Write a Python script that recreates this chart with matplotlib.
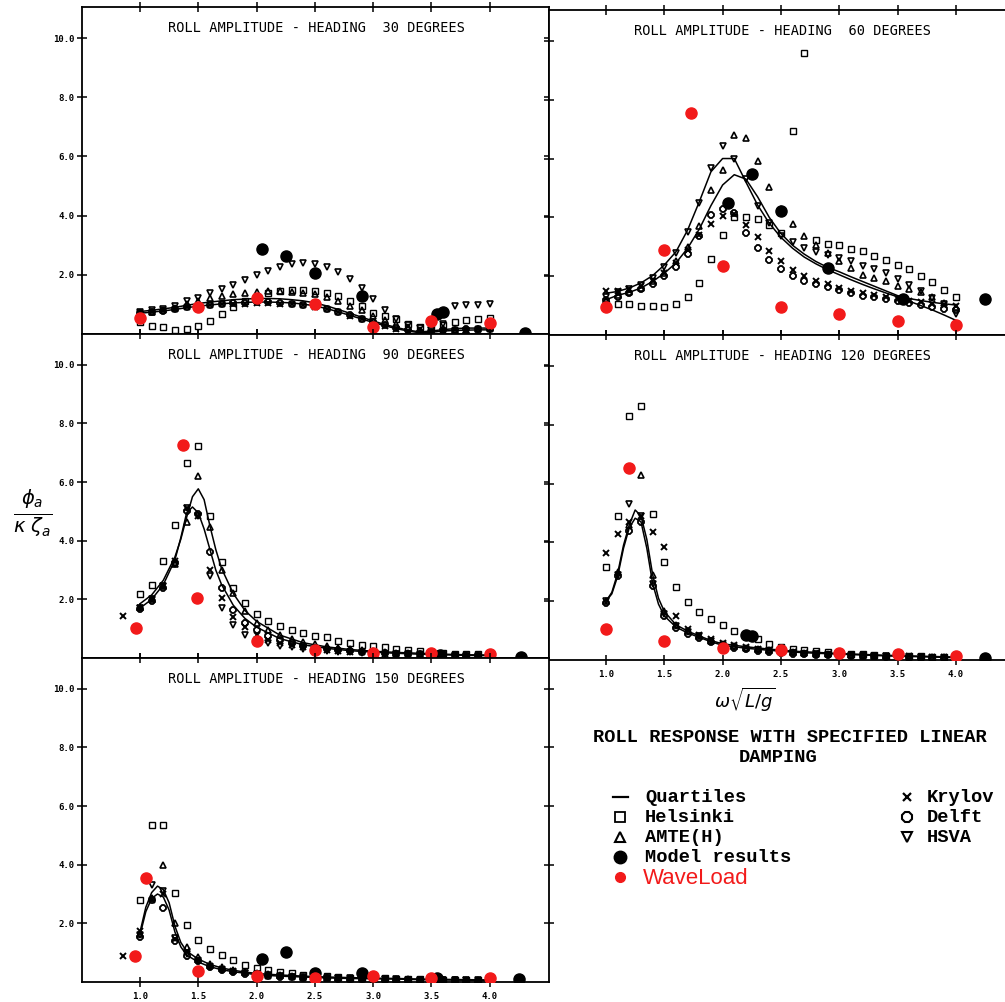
import matplotlib
matplotlib.use("Agg")
import matplotlib.pyplot as plt

# reduced frequency grid used by the computed results
GRID = [1.0, 1.1, 1.2, 1.3, 1.4, 1.5, 1.6, 1.7, 1.8, 1.9, 2.0,
        2.1, 2.2, 2.3, 2.4, 2.5, 2.6, 2.7, 2.8, 2.9, 3.0,
        3.1, 3.2, 3.3, 3.4, 3.5, 3.6, 3.7, 3.8, 3.9, 4.0]

# ---- heading 30 ----
Q30_HI = [0.76, 0.80, 0.85, 0.90, 0.97, 1.03, 1.08, 1.12, 1.16, 1.18, 1.20,
          1.20, 1.19, 1.16, 1.12, 1.05, 0.95, 0.83, 0.70, 0.57, 0.44,
          0.32, 0.22, 0.13, 0.07, 0.10, 0.15, 0.18, 0.20, 0.20, 0.20]
Q30_LO = [0.70, 0.74, 0.78, 0.83, 0.89, 0.94, 0.98, 1.02, 1.05, 1.07, 1.08,
          1.08, 1.07, 1.05, 1.01, 0.95, 0.86, 0.75, 0.63, 0.51, 0.39,
          0.28, 0.18, 0.10, 0.04, 0.06, 0.10, 0.12, 0.13, 0.14, 0.14]
HEL30 = [0.42, 0.28, 0.22, 0.15, 0.16, 0.28, 0.45, 0.68, 0.90, 1.10, 1.25,
         1.38, 1.45, 1.50, 1.50, 1.45, 1.38, 1.27, 1.13, 0.93, 0.72,
         0.60, 0.50, 0.35, 0.25, 0.25, 0.32, 0.42, 0.47, 0.50, 0.53]
AMTE30 = [0.72, 0.76, 0.80, 0.88, 1.00, 1.10, 1.20, 1.30, 1.35, 1.40, 1.42,
          1.44, 1.44, 1.43, 1.40, 1.35, 1.25, 1.10, 0.95, 0.80, 0.62,
          0.48, 0.35, 0.22, 0.12, 0.08, 0.10, 0.12, 0.15, 0.18, 0.20]
HSVA30 = [0.75, 0.80, 0.85, 0.95, 1.10, 1.21, 1.38, 1.51, 1.66, 1.82, 2.00,
          2.13, 2.25, 2.36, 2.40, 2.37, 2.28, 2.10, 1.85, 1.55, 1.18,
          0.80, 0.50, 0.30, 0.20, 0.15, 0.35, 0.95, 0.97, 0.98, 1.00]
KRY30 = [0.72, 0.76, 0.80, 0.85, 0.90, 0.94, 0.98, 1.00, 1.02, 1.03, 1.04,
         1.04, 1.03, 1.00, 0.97, 0.92, 0.84, 0.74, 0.62, 0.50, 0.38,
         0.27, 0.18, 0.10, 0.05, 0.06, 0.10, 0.13, 0.15, 0.16, 0.16]
DELFT30 = [0.70, 0.75, 0.79, 0.84, 0.90, 0.95, 0.99, 1.02, 1.04, 1.06, 1.07,
           1.07, 1.06, 1.03, 0.99, 0.93, 0.85, 0.75, 0.64, 0.52, 0.40,
           0.29, 0.20, 0.12, 0.06, 0.08, 0.12, 0.14, 0.16, 0.17, 0.17]
MOD30_X = [2.05, 2.25, 2.5, 2.9, 3.55, 3.6, 4.3]
MOD30_Y = [2.88, 2.62, 2.07, 1.30, 0.68, 0.75, 0.05]
WL30_X = [1.0, 1.5, 2.0, 2.5, 3.0, 3.5, 4.0]
WL30_Y = [0.55, 0.90, 1.20, 1.00, 0.25, 0.45, 0.38]

# ---- heading 60 ----
Q60_HI = [1.42, 1.48, 1.60, 1.77, 2.02, 2.38, 2.83, 3.57, 4.53, 5.55, 6.00,
          6.00, 5.20, 4.42, 3.80, 3.32, 2.95, 2.65, 2.42, 2.22, 2.05,
          1.88, 1.72, 1.57, 1.43, 1.30, 1.15, 1.00, 0.85, 0.68, 0.50]
Q60_LO = [1.20, 1.35, 1.45, 1.60, 1.82, 2.10, 2.45, 2.95, 3.60, 4.40, 5.10,
          5.45, 5.30, 4.70, 4.00, 3.45, 3.05, 2.75, 2.50, 2.30, 2.15,
          1.98, 1.82, 1.66, 1.50, 1.34, 1.24, 1.17, 1.11, 1.06, 1.02]
HEL60 = [1.05, 1.04, 1.04, 1.00, 1.00, 0.95, 1.04, 1.30, 1.76, 2.57, 3.39,
         4.00, 4.00, 3.93, 3.75, 3.46, 6.94, 9.58, 3.23, 3.10, 3.05,
         2.93, 2.84, 2.68, 2.56, 2.37, 2.24, 2.00, 1.80, 1.52, 1.30]
AMTE60 = [1.20, 1.35, 1.45, 1.60, 1.82, 2.10, 2.50, 3.00, 3.70, 4.93, 5.60,
          6.80, 6.69, 5.90, 5.04, 4.30, 3.78, 3.35, 3.05, 2.80, 2.53,
          2.27, 2.05, 1.95, 1.85, 1.67, 1.55, 1.45, 1.30, 1.10, 0.95]
HSVA60 = [1.30, 1.45, 1.55, 1.70, 1.95, 2.30, 2.78, 3.50, 4.50, 5.69, 6.43,
          6.00, 5.30, 4.40, 3.80, 3.35, 3.15, 2.95, 2.82, 2.72, 2.63,
          2.52, 2.35, 2.25, 2.12, 1.90, 1.70, 1.48, 1.27, 1.05, 0.70]
KRY60 = [1.50, 1.50, 1.55, 1.65, 1.85, 2.10, 2.45, 2.90, 3.40, 3.78, 4.03,
         4.10, 3.75, 3.32, 2.87, 2.50, 2.20, 2.00, 1.85, 1.72, 1.60,
         1.50, 1.42, 1.35, 1.28, 1.22, 1.17, 1.12, 1.07, 1.02, 0.97]
DELFT60 = [1.20, 1.30, 1.42, 1.55, 1.75, 2.00, 2.30, 2.75, 3.35, 4.08, 4.30,
           4.15, 3.46, 2.95, 2.55, 2.23, 2.00, 1.85, 1.73, 1.62, 1.54,
           1.44, 1.33, 1.30, 1.22, 1.15, 1.08, 1.02, 0.96, 0.90, 0.85]
MOD60_X = [2.05, 2.25, 2.5, 2.9, 3.55, 4.25]
MOD60_Y = [4.50, 5.48, 4.23, 2.29, 1.22, 1.22]
WL60_X = [1.0, 1.5, 1.73, 2.0, 2.5, 3.0, 3.5, 4.0]
WL60_Y = [0.94, 2.88, 7.55, 2.35, 0.94, 0.70, 0.47, 0.34]

# ---- heading 90 ----
Q90_X = [1.0, 1.1, 1.2, 1.3, 1.35, 1.4, 1.45, 1.5, 1.55, 1.6, 1.65, 1.7,
         1.8, 1.9, 2.0, 2.2, 2.4, 2.6, 2.8, 3.0, 3.2, 3.4, 3.6, 3.8, 4.0]
Q90_HI = [1.85, 2.15, 2.65, 3.45, 4.05, 4.80, 5.50, 5.77, 5.40, 4.50, 3.70, 3.05,
          2.20, 1.62, 1.25, 0.78, 0.52, 0.38, 0.29, 0.23, 0.19, 0.16, 0.13, 0.11, 0.10]
Q90_LO = [1.70, 2.00, 2.50, 3.35, 4.10, 4.95, 5.15, 4.95, 4.40, 3.70, 3.00, 2.50,
          1.80, 1.35, 1.05, 0.66, 0.45, 0.33, 0.25, 0.20, 0.16, 0.13, 0.11, 0.09, 0.08]
HEL90 = [2.17, 2.50, 3.30, 4.55, 6.66, 7.22, 4.84, 3.28, 2.40, 1.88, 1.50,
         1.25, 1.08, 0.95, 0.84, 0.75, 0.70, 0.59, 0.52, 0.46, 0.41,
         0.37, 0.32, 0.27, 0.24, 0.20, 0.17, 0.15, 0.13, 0.12, 0.10]
AMTE90 = [1.75, 2.00, 2.45, 3.20, 4.64, 6.22, 4.47, 3.00, 2.20, 1.60, 1.20,
          0.95, 0.78, 0.65, 0.55, 0.47, 0.40, 0.35, 0.30, 0.26, 0.23,
          0.20, 0.18, 0.16, 0.14, 0.12, 0.11, 0.10, 0.09, 0.08, 0.08]
HSVA90 = [1.70, 2.00, 2.45, 3.20, 5.10, 4.85, 2.80, 1.70, 1.12, 0.80, 0.62,
          0.50, 0.42, 0.36, 0.31, 0.27, 0.24, 0.21, 0.19, 0.17, 0.15,
          0.14, 0.13, 0.12, 0.11, 0.10, 0.09, 0.08, 0.07, 0.07, 0.06]
KRY90_X = [0.85] + GRID
KRY90 = [1.43, 1.72, 1.98, 2.45, 3.30, 5.10, 4.85, 3.00, 2.05, 1.40, 1.05, 0.80,
         0.63, 0.52, 0.43, 0.36, 0.31, 0.27, 0.24, 0.21, 0.19, 0.17,
         0.15, 0.14, 0.13, 0.12, 0.11, 0.10, 0.09, 0.08, 0.08, 0.07]
DELFT90 = [1.68, 1.95, 2.40, 3.25, 5.00, 4.90, 3.60, 2.40, 1.65, 1.20, 0.95,
           0.75, 0.60, 0.50, 0.42, 0.35, 0.30, 0.26, 0.23, 0.20, 0.18,
           0.16, 0.14, 0.13, 0.12, 0.11, 0.10, 0.09, 0.08, 0.07, 0.07]
MOD90_X = [3.57, 4.27]
MOD90_Y = [0.10, 0.05]
WL90_X = [0.97, 1.37, 1.49, 2.0, 2.5, 3.0, 3.5, 4.0]
WL90_Y = [1.04, 7.28, 2.05, 0.58, 0.27, 0.16, 0.18, 0.13]

# ---- heading 120 ----
Q120_X = [1.0, 1.05, 1.1, 1.15, 1.2, 1.25, 1.3, 1.35, 1.4, 1.45, 1.5, 1.6, 1.7,
          1.8, 1.9, 2.0, 2.2, 2.4, 2.6, 2.8, 3.0, 3.2, 3.4, 3.6, 3.8, 4.0]
Q120_HI = [2.00, 2.30, 2.95, 3.90, 4.60, 5.10, 4.90, 4.10, 2.90, 2.10, 1.65, 1.20, 0.98,
           0.82, 0.66, 0.55, 0.45, 0.37, 0.30, 0.26, 0.22, 0.19, 0.16, 0.14, 0.12, 0.10]
Q120_LO = [2.00, 2.25, 2.85, 3.80, 4.50, 4.82, 4.70, 3.80, 2.60, 1.90, 1.50, 1.12, 0.92,
           0.77, 0.62, 0.50, 0.40, 0.33, 0.27, 0.23, 0.20, 0.17, 0.14, 0.12, 0.10, 0.08]
HEL120 = [3.17, 4.90, 8.28, 8.64, 4.97, 3.34, 2.47, 1.98, 1.64, 1.38, 1.18,
          0.99, 0.85, 0.70, 0.54, 0.45, 0.39, 0.34, 0.30, 0.27, 0.24,
          0.21, 0.19, 0.17, 0.15, 0.14, 0.13, 0.12, 0.11, 0.10, 0.10]
AMTE120 = [2.00, 3.00, 4.60, 6.29, 2.90, 1.65, 1.20, 0.98, 0.82, 0.66, 0.55,
           0.47, 0.42, 0.37, 0.33, 0.30, 0.27, 0.24, 0.22, 0.20, 0.18,
           0.16, 0.15, 0.14, 0.13, 0.12, 0.11, 0.10, 0.09, 0.09, 0.08]
HSVA120 = [2.00, 2.90, 5.30, 4.90, 2.60, 1.55, 1.15, 0.95, 0.80, 0.64, 0.52,
           0.44, 0.38, 0.33, 0.30, 0.27, 0.24, 0.22, 0.20, 0.18, 0.16,
           0.15, 0.14, 0.13, 0.12, 0.11, 0.10, 0.09, 0.08, 0.08, 0.07]
KRY120 = [3.65, 4.27, 4.70, 4.90, 4.35, 3.84, 1.50, 1.05, 0.85, 0.70, 0.58,
          0.50, 0.43, 0.38, 0.34, 0.30, 0.27, 0.25, 0.23, 0.21, 0.19,
          0.17, 0.16, 0.15, 0.14, 0.13, 0.12, 0.11, 0.10, 0.09, 0.09]
DELFT120 = [1.95, 2.85, 4.40, 4.70, 2.50, 1.50, 1.10, 0.90, 0.75, 0.60, 0.50,
            0.42, 0.37, 0.32, 0.28, 0.25, 0.22, 0.20, 0.18, 0.16, 0.15,
            0.14, 0.13, 0.12, 0.11, 0.10, 0.09, 0.08, 0.08, 0.07, 0.07]
MOD120_X = [2.2, 2.25, 4.25]
MOD120_Y = [0.85, 0.82, 0.06]
WL120_X = [1.0, 1.2, 1.5, 2.0, 2.5, 3.0, 3.5, 4.0]
WL120_Y = [1.05, 6.52, 0.65, 0.40, 0.34, 0.25, 0.19, 0.14]

# ---- heading 150 ----
Q150_X = [1.0, 1.05, 1.1, 1.15, 1.2, 1.25, 1.3, 1.35, 1.4, 1.5, 1.6, 1.7, 1.8,
          1.9, 2.0, 2.2, 2.4, 2.6, 2.8, 3.0, 3.2, 3.4, 3.6, 3.8, 4.0]
Q150_HI = [1.70, 2.55, 3.05, 3.27, 3.15, 2.70, 1.90, 1.35, 1.05, 0.78, 0.60, 0.48, 0.40,
           0.34, 0.29, 0.24, 0.20, 0.17, 0.15, 0.13, 0.12, 0.10, 0.09, 0.08, 0.07]
Q150_LO = [1.60, 2.40, 2.85, 3.00, 2.90, 2.45, 1.70, 1.20, 0.92, 0.68, 0.52, 0.42, 0.35,
           0.30, 0.25, 0.20, 0.17, 0.14, 0.12, 0.11, 0.10, 0.08, 0.07, 0.06, 0.05]
HEL150 = [2.79, 5.34, 5.37, 3.02, 1.94, 1.44, 1.13, 0.93, 0.76, 0.59, 0.48,
          0.40, 0.34, 0.29, 0.25, 0.22, 0.19, 0.17, 0.15, 0.14, 0.13,
          0.12, 0.11, 0.10, 0.09, 0.09, 0.08, 0.08, 0.07, 0.07, 0.06]
AMTE150 = [1.65, 2.85, 4.00, 2.00, 1.18, 0.85, 0.62, 0.50, 0.41, 0.35, 0.30,
           0.26, 0.23, 0.20, 0.18, 0.16, 0.15, 0.14, 0.13, 0.12, 0.11,
           0.10, 0.09, 0.09, 0.08, 0.08, 0.07, 0.07, 0.06, 0.06, 0.06]
HSVA150 = [1.60, 3.32, 3.10, 1.50, 0.95, 0.70, 0.52, 0.42, 0.35, 0.30, 0.26,
           0.23, 0.20, 0.18, 0.16, 0.15, 0.14, 0.13, 0.12, 0.11, 0.10,
           0.09, 0.09, 0.08, 0.08, 0.07, 0.07, 0.06, 0.06, 0.06, 0.05]
KRY150_X = [0.85] + GRID
KRY150 = [0.90, 1.75, 2.80, 3.00, 1.45, 1.05, 0.75, 0.55, 0.45, 0.37, 0.31, 0.26,
          0.22, 0.19, 0.17, 0.15, 0.14, 0.13, 0.12, 0.11, 0.10, 0.09,
          0.09, 0.08, 0.08, 0.07, 0.07, 0.06, 0.06, 0.06, 0.05, 0.05]
DELFT150 = [1.55, 2.80, 2.54, 1.40, 0.90, 0.70, 0.50, 0.40, 0.33, 0.28, 0.24,
            0.21, 0.18, 0.16, 0.15, 0.13, 0.12, 0.11, 0.10, 0.10, 0.09,
            0.08, 0.08, 0.07, 0.07, 0.06, 0.06, 0.06, 0.05, 0.05, 0.05]
MOD150_X = [2.05, 2.25, 2.5, 2.9, 3.55, 4.25]
MOD150_Y = [0.78, 1.03, 0.30, 0.30, 0.12, 0.10]
WL150_X = [0.96, 1.05, 1.5, 2.0, 2.5, 3.0, 3.5, 4.0]
WL150_Y = [0.90, 3.55, 0.37, 0.20, 0.15, 0.20, 0.15, 0.15]

XTICKS = [1.0, 1.5, 2.0, 2.5, 3.0, 3.5, 4.0]
YTICKS = [2.0, 4.0, 6.0, 8.0, 10.0]

W, H = 1005, 1002
RED = "#f21a1a"
MONO = "DejaVu Sans Mono"


def px_rect(l, t, r, b):
    return [l / W, 1 - b / H, (r - l) / W, (b - t) / H]


def make_panel(fig, rect, xlim, title, left_col, xlabels):
    ax = fig.add_axes(px_rect(*rect))
    ax.set_xlim(*xlim)
    ax.set_ylim(0, 11.05)
    for s in ax.spines.values():
        s.set_linewidth(1.3)
    if not left_col:
        ax.spines["right"].set_visible(False)
    ax.set_xticks(XTICKS)
    ax.set_yticks(YTICKS)
    ax.tick_params(axis="both", direction="inout", length=7, width=1.1,
                   top=True, right=left_col)
    ax.set_xticklabels([f"{v:.1f}" for v in XTICKS] if xlabels else [],
                       fontfamily=MONO, fontweight="bold", fontsize=6.5)
    ax.set_yticklabels([f"{v:.1f}" for v in YTICKS] if left_col else [],
                       fontfamily=MONO, fontweight="bold", fontsize=6.5)
    ax.tick_params(axis="y", pad=2)
    ax.tick_params(axis="x", pad=4)
    ax.text(2.51, 10.35, title, ha="center", va="center",
            fontfamily=MONO, fontsize=9.8)
    return ax


def draw(ax, qx, qhi, qlo, hel, amte, hsva, kx, kry, delft, mx, my, wx, wy):
    ax.plot(qx, qhi, color="black", lw=1.1, zorder=3)
    ax.plot(qx, qlo, color="black", lw=1.1, zorder=3)
    ax.plot(GRID, hel, ls="none", marker="s", ms=4.2, mfc="none",
            mec="black", mew=1.0, zorder=4)
    ax.plot(GRID, amte, ls="none", marker="^", ms=4.2, mfc="none",
            mec="black", mew=1.2, zorder=4)
    ax.plot(GRID, hsva, ls="none", marker="v", ms=4.2, mfc="none",
            mec="black", mew=1.2, zorder=4)
    ax.plot(kx, kry, ls="none", marker="x", ms=3.8, mec="black",
            mew=1.4, zorder=4)
    ax.plot(GRID, delft, ls="none", marker="8", ms=4.2, mfc="none",
            mec="black", mew=1.3, zorder=4)
    ax.plot(mx, my, ls="none", marker="o", ms=8, color="black", zorder=5)
    ax.plot(wx, wy, ls="none", marker="o", ms=8, color=RED, zorder=6)


fig = plt.figure(figsize=(W / 100, H / 100), dpi=100)

LEFT_X = (0.5026, 4.508)
RIGHT_X = (0.511, 4.422)

ax30 = make_panel(fig, (82, 7, 549, 334), LEFT_X,
                  "ROLL AMPLITUDE - HEADING  30 DEGREES", True, False)
draw(ax30, GRID, Q30_HI, Q30_LO, HEL30, AMTE30, HSVA30, GRID, KRY30, DELFT30,
     MOD30_X, MOD30_Y, WL30_X, WL30_Y)

ax60 = make_panel(fig, (549, 10, 1005, 335), RIGHT_X,
                  "ROLL AMPLITUDE - HEADING  60 DEGREES", False, False)
draw(ax60, GRID, Q60_HI, Q60_LO, HEL60, AMTE60, HSVA60, GRID, KRY60, DELFT60,
     MOD60_X, MOD60_Y, WL60_X, WL60_Y)

ax90 = make_panel(fig, (82, 334, 549, 658), LEFT_X,
                  "ROLL AMPLITUDE - HEADING  90 DEGREES", True, False)
draw(ax90, Q90_X, Q90_HI, Q90_LO, HEL90, AMTE90, HSVA90, KRY90_X, KRY90, DELFT90,
     MOD90_X, MOD90_Y, WL90_X, WL90_Y)

ax120 = make_panel(fig, (549, 335, 1005, 660), RIGHT_X,
                   "ROLL AMPLITUDE - HEADING 120 DEGREES", False, True)
draw(ax120, Q120_X, Q120_HI, Q120_LO, HEL120, AMTE120, HSVA120, GRID, KRY120,
     DELFT120, MOD120_X, MOD120_Y, WL120_X, WL120_Y)

ax150 = make_panel(fig, (82, 658, 549, 982), LEFT_X,
                   "ROLL AMPLITUDE - HEADING 150 DEGREES", True, True)
draw(ax150, Q150_X, Q150_HI, Q150_LO, HEL150, AMTE150, HSVA150, KRY150_X, KRY150,
     DELFT150, MOD150_X, MOD150_Y, WL150_X, WL150_Y)

# axis labels
fig.text(33 / W, 1 - 513 / H, r"$\frac{\phi_a}{\kappa\ \zeta_a}$",
         ha="center", va="center", fontsize=20)
fig.text(745 / W, 1 - 700 / H, r"$\omega\sqrt{L/g}$",
         ha="center", va="center", fontsize=13)

# caption
fig.text(790 / W, 1 - 737 / H, "ROLL RESPONSE WITH SPECIFIED LINEAR",
         ha="center", va="center", fontfamily="Liberation Mono",
         fontweight="bold", fontsize=13.5)
fig.text(778 / W, 1 - 757 / H, "DAMPING", ha="center", va="center",
         fontfamily="Liberation Mono", fontweight="bold", fontsize=13.5)

# legend keys drawn in pixel space
leg = fig.add_axes([0, 0, 1, 1])
leg.set_xlim(0, W)
leg.set_ylim(H, 0)
leg.axis("off")

key_font = dict(fontfamily="Liberation Mono", fontweight="bold", fontsize=13.5,
                va="center", ha="left")
leg.plot([613, 628], [797, 797], color="black", lw=1.6)
leg.text(645, 797, "Quartiles", **key_font)
leg.plot([620], [817], marker="s", ms=7, mfc="none", mec="black", mew=1.3)
leg.text(645, 817, "Helsinki", **key_font)
leg.plot([620], [837], marker="^", ms=7.5, mfc="none", mec="black", mew=1.5)
leg.text(645, 837, "AMTE(H)", **key_font)
leg.plot([620], [857], marker="o", ms=9, color="black")
leg.text(645, 857, "Model results", **key_font)
leg.plot([620], [877], marker="o", ms=7, color=RED)
leg.text(643, 878, "WaveLoad", fontfamily="Liberation Sans", fontsize=16,
         color=RED, va="center", ha="left")
leg.plot([907], [797], marker="x", ms=6, mec="black", mew=1.6)
leg.text(927, 797, "Krylov", **key_font)
leg.plot([907], [817], marker="8", ms=8, mfc="none", mec="black", mew=1.5)
leg.text(927, 817, "Delft", **key_font)
leg.plot([907], [837], marker="v", ms=7.5, mfc="none", mec="black", mew=1.5)
leg.text(927, 837, "HSVA", **key_font)

fig.savefig("out.png", dpi=100)
